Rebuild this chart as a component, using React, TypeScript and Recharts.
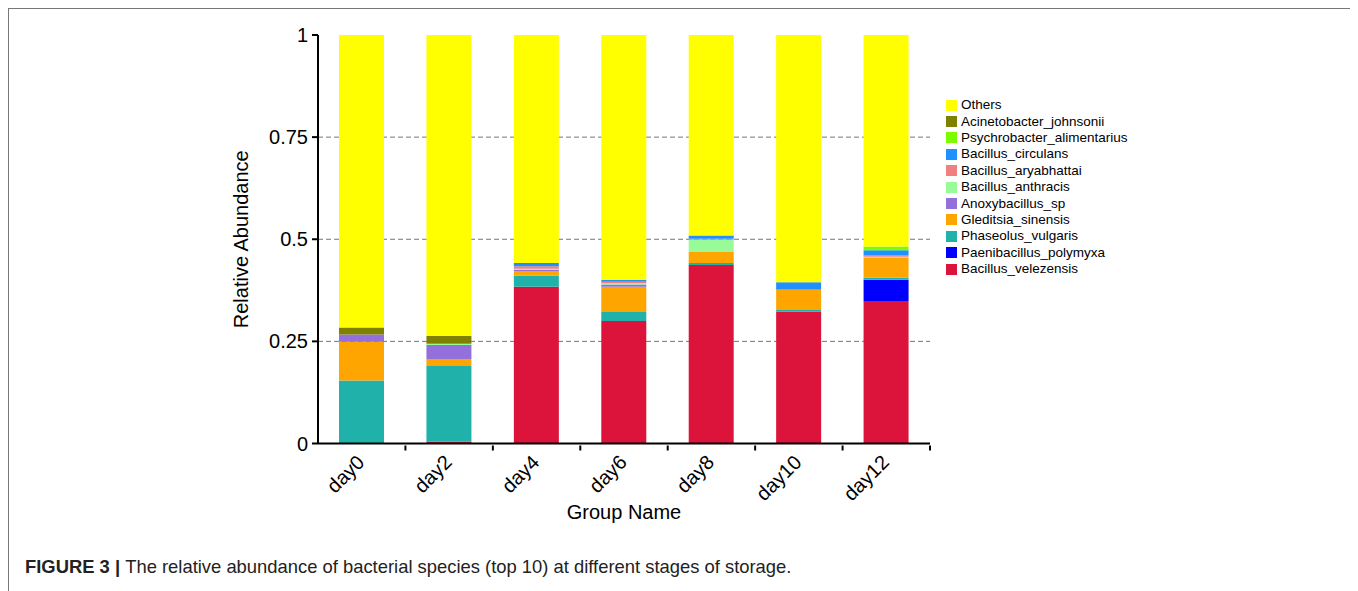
import React from "react";
import { BarChart, Bar, XAxis, YAxis, CartesianGrid } from "recharts";

const days = ["day0", "day2", "day4", "day6", "day8", "day10", "day12"];

// stacked bottom to top
const velezensis = [0, 0.004, 0.384, 0.3, 0.437, 0.323, 0.349];
const polymyxa = [0, 0, 0, 0, 0, 0, 0.052];
const vulgaris = [0.154, 0.186, 0.027, 0.022, 0.005, 0.004, 0.005];
const sinensis = [0.095, 0.017, 0.01, 0.062, 0.028, 0.049, 0.048];
const anoxybacillus = [0.018, 0.034, 0.004, 0.005, 0, 0, 0];
const anthracis = [0, 0.003, 0.003, 0.003, 0.029, 0, 0.003];
const aryabhattai = [0, 0, 0.006, 0.004, 0.002, 0.002, 0.003];
const circulans = [0, 0, 0.008, 0.005, 0.008, 0.017, 0.013];
const alimentarius = [0, 0, 0, 0, 0, 0, 0.009];
const johnsonii = [0.017, 0.019, 0, 0, 0, 0, 0];
const others = [0.716, 0.737, 0.558, 0.599, 0.491, 0.605, 0.518];

const yTicks = [0, 0.25, 0.5, 0.75, 1];
const gridValues = [0.25, 0.5, 0.75];

const series = [
  { key: "Bacillus_velezensis", values: velezensis, color: "#DC143C" },
  { key: "Paenibacillus_polymyxa", values: polymyxa, color: "#0000FF" },
  { key: "Phaseolus_vulgaris", values: vulgaris, color: "#20B2AA" },
  { key: "Gleditsia_sinensis", values: sinensis, color: "#FFA500" },
  { key: "Anoxybacillus_sp", values: anoxybacillus, color: "#9370DB" },
  { key: "Bacillus_anthracis", values: anthracis, color: "#98FB98" },
  { key: "Bacillus_aryabhattai", values: aryabhattai, color: "#F08080" },
  { key: "Bacillus_circulans", values: circulans, color: "#1E90FF" },
  { key: "Psychrobacter_alimentarius", values: alimentarius, color: "#7CFC00" },
  { key: "Acinetobacter_johnsonii", values: johnsonii, color: "#808000" },
  { key: "Others", values: others, color: "#FFFF00" },
];

const data = days.map((day, i) => {
  const row: Record<string, string | number> = { day };
  series.forEach((s) => {
    row[s.key] = s.values[i];
  });
  return row;
});

const FONT = "'Liberation Sans', Arial, sans-serif";

function DayTick(props: any) {
  const { x, y, payload } = props;
  const half = payload && payload.offset ? payload.offset : 43.7;
  const tx = x + 4;
  const ty = y + 18;
  return (
    <g>
      <line x1={x + half} y1={y} x2={x + half} y2={y + 5} stroke="#000" strokeWidth={2} />
      <text
        x={tx}
        y={ty}
        textAnchor="end"
        fontSize={20}
        fontFamily={FONT}
        fill="#000"
        transform={`rotate(-45, ${tx}, ${ty})`}
      >
        {payload.value}
      </text>
    </g>
  );
}

function YTitle(props: any) {
  const vb = props.viewBox;
  const x = vb.x + vb.width - 77;
  const y = vb.y + vb.height / 2;
  return (
    <text
      x={x}
      y={y}
      textAnchor="middle"
      dominantBaseline="central"
      fontSize={20}
      fontFamily={FONT}
      fill="#000"
      transform={`rotate(-90, ${x}, ${y})`}
    >
      Relative Abundance
    </text>
  );
}

function XTitle(props: any) {
  const vb = props.viewBox;
  return (
    <text
      x={vb.x + vb.width / 2}
      y={vb.y + 68}
      textAnchor="middle"
      dominantBaseline="central"
      fontSize={20}
      fontFamily={FONT}
      fill="#000"
    >
      Group Name
    </text>
  );
}

export default function App() {
  return (
    <div
      style={{
        position: "relative",
        width: 1346,
        height: 600,
        borderTop: "1px solid #777",
        borderLeft: "1px solid #777",
        borderRight: "1px solid #777",
        background: "#fff",
        fontFamily: FONT,
      }}
    >
      <div style={{ position: "absolute", left: 0, top: 0 }}>
        <BarChart
          width={1340}
          height={522}
          data={data}
          margin={{ top: 26, right: 419, bottom: 5.5, left: 0 }}
        >
          <CartesianGrid
            vertical={false}
            horizontalValues={gridValues}
            stroke="#777"
            strokeDasharray="5 3"
          />
          <XAxis
            dataKey="day"
            height={82}
            tickSize={0}
            tickLine={false}
            tick={<DayTick />}
            axisLine={{ stroke: "#000", strokeWidth: 2 }}
            interval={0}
            label={{ content: <XTitle /> }}
          />
          <YAxis
            width={309}
            domain={[0, 1]}
            ticks={yTicks}
            tickFormatter={(v: number) => String(v)}
            tickSize={6}
            tickMargin={4}
            tick={{ fontSize: 20, fontFamily: FONT, fill: "#000" }}
            tickLine={{ stroke: "#000", strokeWidth: 2 }}
            axisLine={{ stroke: "#000", strokeWidth: 2 }}
            label={{ content: <YTitle /> }}
          />
          {series.map((s) => (
            <Bar
              key={s.key}
              dataKey={s.key}
              stackId="a"
              fill={s.color}
              barSize={45}
              isAnimationActive={false}
            />
          ))}
        </BarChart>
      </div>
      <div style={{ position: "absolute", left: 937, top: 88 }}>
        {series
          .slice()
          .reverse()
          .map((s) => (
            <div
              key={s.key}
              style={{ display: "flex", alignItems: "center", height: 16.4 }}
            >
              <span
                style={{
                  display: "inline-block",
                  width: 11,
                  height: 11,
                  background: s.color,
                  marginRight: 4,
                }}
              />
              <span style={{ fontSize: 13.5, color: "#000", lineHeight: "16px" }}>
                {s.key}
              </span>
            </div>
          ))}
      </div>
      <div
        style={{
          position: "absolute",
          left: 16,
          top: 547,
          fontSize: 18.4,
          color: "#222",
          fontFamily: FONT,
          whiteSpace: "nowrap",
        }}
      >
        <b>FIGURE 3 | </b>The relative abundance of bacterial species (top 10) at different stages of storage.
      </div>
    </div>
  );
}
